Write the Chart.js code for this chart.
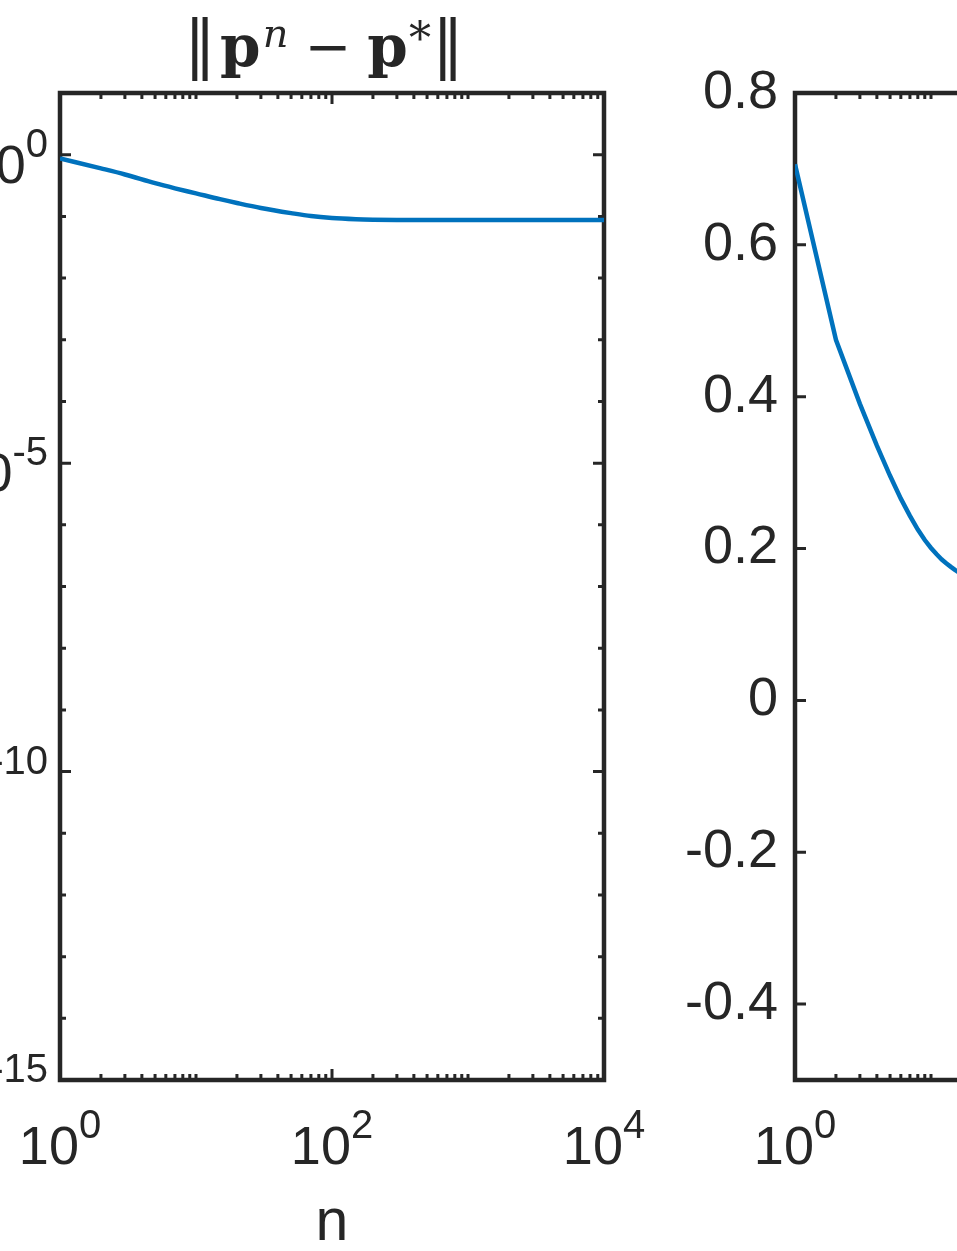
<!DOCTYPE html>
<html>
<head>
<meta charset="utf-8">
<script src="https://cdn.jsdelivr.net/npm/chart.js@4.4.0/dist/chart.umd.min.js"></script>
<style>
  html, body { margin: 0; padding: 0; background: #fff; }
  #wrap { position: relative; width: 957px; height: 1251px; overflow: hidden; }
  .box { position: absolute; top: 0; height: 1251px; }
  #leftBox { left: -150px; width: 850px; }
  #rightBox { left: 600px; width: 800px; }
</style>
</head>
<body>
<div id="wrap">
  <div class="box" id="leftBox"><canvas id="left"></canvas></div>
  <div class="box" id="rightBox"><canvas id="right"></canvas></div>
</div>
<script>
// left panel: ||p^n - p*|| against n (log-log)
const nLeft = [1, 2, 3, 5, 7, 10, 15, 20, 30, 50, 70, 100, 150, 200, 300, 500, 1000, 2000, 5000, 10000];
const errLeft = [0.87, 0.60, 0.478, 0.345, 0.285, 0.236, 0.190, 0.165, 0.137, 0.113,
                 0.101, 0.094, 0.090, 0.0885, 0.0875, 0.0872, 0.0872, 0.0872, 0.0872, 0.0872];

// right panel (cut off at the page edge)
const nRight = [1, 2, 3, 4, 5, 6, 7, 8, 9, 10, 11, 12, 13, 14, 15, 16, 17, 18, 19, 20];
const valRight = [0.706, 0.475, 0.3905, 0.3355, 0.2958, 0.2657, 0.243, 0.225, 0.2112, 0.2007,
                  0.1924, 0.1856, 0.1804, 0.1759, 0.172, 0.1686, 0.1654, 0.1627, 0.1602, 0.1579];

// ticks
const xMajor = [1, 100, 10000];
const xLabelled = [1, 100, 10000];
const yLeftMajor = [1e-15, 1e-10, 1e-5, 1];
const yLeftRange = [1e-15, 10];
const yRightTicks = [-0.4, -0.2, 0, 0.2, 0.4, 0.6, 0.8];
const yRightRange = [-0.5, 0.8];

// log minor ticks: 2..9 of every decade, plus the unlabelled decades
const xMinor = [];
for (let d = 1; d < 10000; d *= 10) {
  for (let k = 2; k <= 9; k++) xMinor.push(k * d);
  if (d * 10 < 10000 && !xMajor.includes(d * 10)) xMinor.push(d * 10);
}
const yLeftMinor = [];
for (let e = -14; e <= 0; e++) {
  if (!yLeftMajor.includes(Math.pow(10, e))) yLeftMinor.push(Math.pow(10, e));
}

const BLUE = '#0072BD';
const INK = '#262626';
const SANS = '"Liberation Sans", Arial, Helvetica, sans-serif';
const SERIF = '"DejaVu Serif", "Liberation Serif", serif';

function powLabel(ctx, exp, x, y, align) {
  const es = String(exp);
  ctx.font = `54px ${SANS}`;
  const bw = ctx.measureText('10').width;
  ctx.font = `40px ${SANS}`;
  const ew = ctx.measureText(es).width;
  const w = bw + ew;
  const left = align === 'right' ? x - w : align === 'center' ? x - w / 2 : x;
  ctx.textAlign = 'left';
  ctx.textBaseline = 'alphabetic';
  ctx.font = `54px ${SANS}`;
  ctx.fillText('10', left, y);
  ctx.font = `40px ${SANS}`;
  ctx.fillText(es, left + bw, y - 26);
}

function drawTitle(ctx, cx, baseline) {
  const parts = [
    { t: '\u2016', f: `64px ${SERIF}`, dy: 0, gap: 4 },
    { t: 'p', f: `bold 58px ${SERIF}`, dy: 0, gap: 2 },
    { t: 'n', f: `italic 40px ${SERIF}`, dy: -19, gap: 16 },
    { t: '\u2212', f: `56px ${SERIF}`, dy: 0, gap: 16 },
    { t: 'p', f: `bold 58px ${SERIF}`, dy: 0, gap: 1 },
    { t: '*', f: `44px ${SERIF}`, dy: -12, gap: 1 },
    { t: '\u2016', f: `64px ${SERIF}`, dy: 0, gap: 0 }
  ];
  let total = 0;
  parts.forEach(p => { ctx.font = p.f; p.w = ctx.measureText(p.t).width; total += p.w + p.gap; });
  let x = cx - total / 2;
  ctx.textAlign = 'left';
  ctx.textBaseline = 'alphabetic';
  parts.forEach(p => {
    ctx.font = p.f;
    ctx.fillText(p.t, x, baseline + p.dy);
    x += p.w + p.gap;
  });
}

const matlabAxes = {
  id: 'matlabAxes',
  beforeDatasetsDraw(chart, args, opts) {
    const { ctx, chartArea: a, scales: { x, y } } = chart;
    ctx.save();
    ctx.strokeStyle = INK;
    ctx.lineWidth = 3;
    const xt = (vals, len) => vals.forEach(v => {
      const px = x.getPixelForValue(v);
      ctx.beginPath();
      ctx.moveTo(px, a.bottom); ctx.lineTo(px, a.bottom - len);
      ctx.moveTo(px, a.top); ctx.lineTo(px, a.top + len);
      ctx.stroke();
    });
    const yt = (vals, len) => vals.forEach(v => {
      const py = y.getPixelForValue(v);
      ctx.beginPath();
      ctx.moveTo(a.left, py); ctx.lineTo(a.left + len, py);
      ctx.moveTo(a.right, py); ctx.lineTo(a.right - len, py);
      ctx.stroke();
    });
    xt(opts.xMinor || [], 6);
    xt(opts.xMajor || [], 11);
    yt(opts.yMinor || [], 6);
    yt(opts.yMajor || [], 11);
    ctx.lineWidth = 4.5;
    ctx.strokeRect(a.left, a.top, a.right - a.left, a.bottom - a.top);
    ctx.restore();
  },
  afterDraw(chart, args, opts) {
    const { ctx, chartArea: a, scales: { x, y } } = chart;
    ctx.save();
    ctx.fillStyle = INK;
    (opts.xPow || []).forEach(v => {
      powLabel(ctx, Math.round(Math.log10(v)), x.getPixelForValue(v), a.bottom + 84, 'center');
    });
    (opts.yPow || []).forEach(v => {
      powLabel(ctx, Math.round(Math.log10(v)), a.left - 12, y.getPixelForValue(v) + 28, 'right');
    });
    if (opts.xTitle) {
      ctx.font = `59px ${SANS}`;
      ctx.textAlign = 'center';
      ctx.textBaseline = 'alphabetic';
      ctx.fillText(opts.xTitle, (a.left + a.right) / 2, a.bottom + 160);
    }
    if (opts.title) drawTitle(ctx, (a.left + a.right) / 2 - 8, 66);
    ctx.restore();
  }
};

function hiddenAxis(extra) {
  return Object.assign({
    display: true,
    grid: { display: false, drawTicks: false },
    border: { display: false },
    ticks: { display: false }
  }, extra);
}

const common = {
  responsive: true,
  maintainAspectRatio: false,
  animation: false,
  events: [],
  devicePixelRatio: 1
};

function lineSet(xs, ys, smooth) {
  return {
    data: xs.map((n, i) => ({ x: n, y: ys[i] })),
    borderColor: BLUE,
    borderWidth: 4.5,
    pointRadius: 0,
    cubicInterpolationMode: smooth ? 'monotone' : 'default',
    tension: 0,
    fill: false
  };
}

new Chart(document.getElementById('left'), {
  type: 'line',
  data: { datasets: [lineSet(nLeft, errLeft, true)] },
  options: Object.assign({}, common, {
    layout: { padding: { top: 93, right: 96, left: 0, bottom: 0 } },
    scales: {
      x: hiddenAxis({ type: 'logarithmic', min: 1, max: 10000, afterFit: s => { s.height = 171; } }),
      y: hiddenAxis({ type: 'logarithmic', min: yLeftRange[0], max: yLeftRange[1], afterFit: s => { s.width = 210; } })
    },
    plugins: {
      legend: { display: false },
      tooltip: { enabled: false },
      matlabAxes: {
        xMajor: xMajor, xMinor: xMinor,
        yMajor: yLeftMajor, yMinor: yLeftMinor,
        xPow: xLabelled, yPow: yLeftMajor,
        xTitle: 'n', title: true
      }
    }
  }),
  plugins: [matlabAxes]
});

new Chart(document.getElementById('right'), {
  type: 'line',
  data: { datasets: [lineSet(nRight, valRight, false)] },
  options: Object.assign({}, common, {
    layout: { padding: { top: 93, right: 61, left: 0, bottom: 0 } },
    scales: {
      x: hiddenAxis({ type: 'logarithmic', min: 1, max: 10000, afterFit: s => { s.height = 171; } }),
      y: {
        type: 'linear',
        min: yRightRange[0],
        max: yRightRange[1],
        grid: { display: false, drawTicks: false },
        border: { display: false },
        afterBuildTicks: s => { s.ticks = yRightTicks.map(v => ({ value: v })); },
        afterFit: s => { s.width = 195; },
        ticks: {
          padding: 17,
          color: INK,
          font: { family: SANS, size: 54 },
          callback: v => String(Math.round(v * 10) / 10)
        }
      }
    },
    plugins: {
      legend: { display: false },
      tooltip: { enabled: false },
      matlabAxes: {
        xMajor: xMajor, xMinor: xMinor,
        yMajor: yRightTicks, yMinor: [],
        xPow: xLabelled
      }
    }
  }),
  plugins: [matlabAxes]
});
</script>
</body>
</html>
